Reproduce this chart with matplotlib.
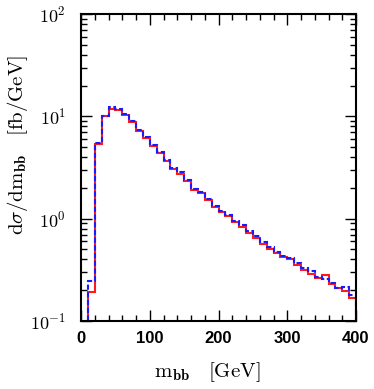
import matplotlib
matplotlib.use("Agg")
import matplotlib.pyplot as plt
import numpy as np
from matplotlib.ticker import MultipleLocator, FixedLocator, NullFormatter

# bin edges (GeV)
edges = list(range(0, 410, 10))

# red solid histogram (fb/GeV)
red = [0.001, 0.193, 5.37, 10.0, 11.9, 11.6, 10.4, 8.8, 7.25, 6.15,
       5.09, 4.39, 3.69, 3.08, 2.75, 2.32, 1.89, 1.78, 1.53, 1.30,
       1.17, 1.05, 0.92, 0.83, 0.73, 0.65, 0.57, 0.51, 0.46, 0.42,
       0.40, 0.35, 0.315, 0.29, 0.263, 0.279, 0.232, 0.21, 0.195, 0.168]

# blue dashed histogram (fb/GeV)
blue = [0.001, 0.248, 5.45, 10.1, 12.2, 11.9, 10.6, 9.0, 7.4, 6.3,
        5.2, 4.5, 3.78, 3.15, 2.85, 2.38, 1.95, 1.84, 1.57, 1.34,
        1.20, 1.08, 0.95, 0.86, 0.75, 0.67, 0.59, 0.53, 0.475, 0.43,
        0.41, 0.37, 0.33, 0.31, 0.27, 0.255, 0.235, 0.212, 0.215, 0.18]

xticks = [0, 100, 200, 300, 400]
yticks = [0.1, 1, 10, 100]
yticklabels = [r"$\mathsf{10^{-1}}$", r"$\mathsf{10^{0}}$", r"$\mathsf{10^{1}}$", r"$\mathsf{10^{2}}$"]

plt.rcParams['mathtext.fontset'] = 'cm'

fig = plt.figure(figsize=(3.74, 3.89), dpi=100)
ax = fig.add_axes([81/374, 1-321/389, (356-81)/374, (321-14)/389])

ax.stairs(red, edges, baseline=0.001, color='#ff1a1a', lw=1.5)
ax.stairs(blue, edges, baseline=0.001, color='#1a1aff', lw=1.5,
          linestyle=(0, (2.5, 1.2)))

ax.set_yscale('log')
ax.set_xlim(0, 400)
ax.set_ylim(0.1, 100)

ax.set_xticks(xticks)
ax.set_xticklabels([str(v) for v in xticks], fontsize=12, fontweight='bold',
                   family='Liberation Sans')
ax.xaxis.set_minor_locator(MultipleLocator(20))
ax.yaxis.set_major_locator(FixedLocator(yticks))
ax.set_yticklabels(yticklabels, fontsize=13)
minors = [m * 10.0**e for e in (-1, 0, 1) for m in range(2, 10)]
ax.yaxis.set_minor_locator(FixedLocator(minors))
ax.yaxis.set_minor_formatter(NullFormatter())

ax.tick_params(which='both', direction='in', top=True, right=True, width=1.0)
ax.tick_params(which='major', length=8, pad=7)
ax.tick_params(which='minor', length=4)
ax.tick_params(axis='y', which='major', pad=11)
for s in ax.spines.values():
    s.set_linewidth(1.5)

ax.set_xlabel(r"$\mathrm{m}_{\mathbf{bb}}\ \ \ [\mathrm{GeV}]$", fontsize=15)
ax.set_ylabel(r"$\mathrm{d}\sigma/\mathrm{dm}_{\mathbf{bb}}\ \ \ [\mathrm{fb/GeV}]$", fontsize=15)
ax.xaxis.set_label_coords(0.46, -0.128)
ax.yaxis.set_label_coords(-0.185, 0.573)

fig.savefig("out.png", dpi=100)
